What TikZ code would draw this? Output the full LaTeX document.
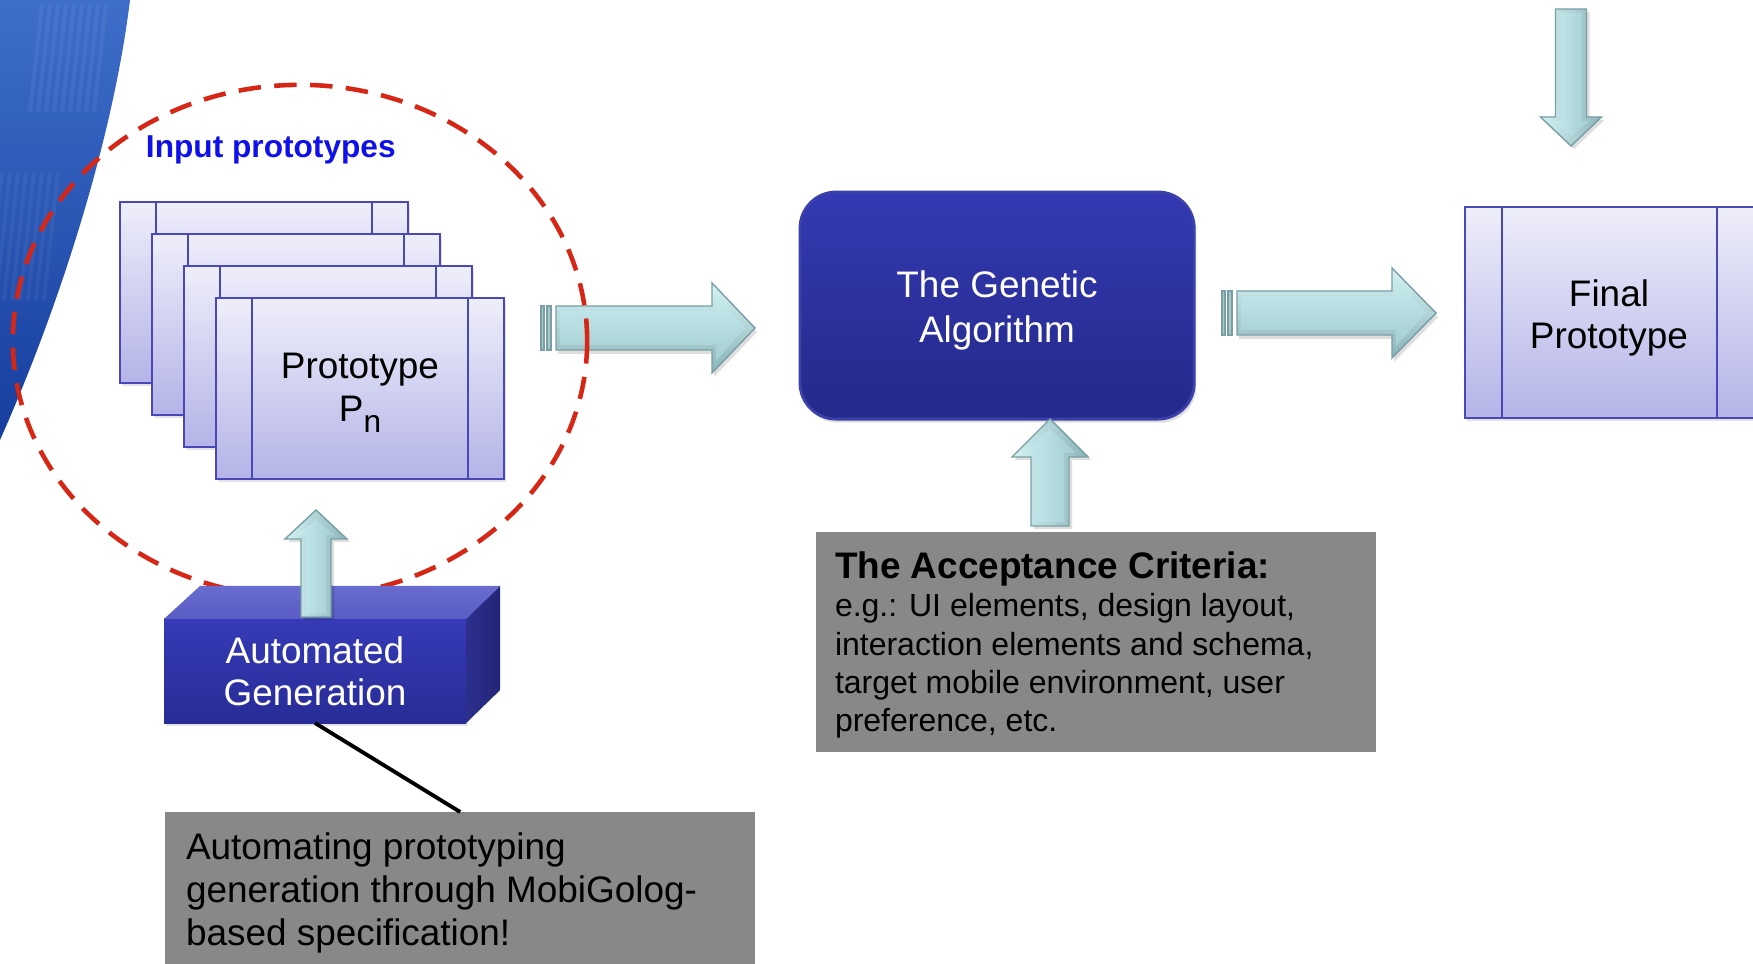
\documentclass[tikz,border=0pt]{standalone}
\usepackage{fontspec}
\setmainfont{Liberation Sans}
\usetikzlibrary{shadows}

\definecolor{protoedge}{RGB}{72,72,184}
\definecolor{prototop}{RGB}{238,238,250}
\definecolor{protobot}{RGB}{180,180,232}
\definecolor{gabluetop}{RGB}{52,57,178}
\definecolor{gabluebot}{RGB}{36,41,138}
\definecolor{gaedge}{RGB}{60,64,170}
\definecolor{frontA}{RGB}{54,58,182}
\definecolor{frontB}{RGB}{40,44,150}
\definecolor{topfaceA}{RGB}{104,108,206}
\definecolor{topfaceB}{RGB}{88,92,196}
\definecolor{sideA}{RGB}{44,47,140}
\definecolor{sideB}{RGB}{34,37,118}
\definecolor{notegray}{RGB}{136,136,136}
\definecolor{dashred}{RGB}{214,38,22}
\definecolor{inputblue}{RGB}{16,16,235}
\definecolor{cyanhi}{RGB}{214,242,244}
\definecolor{cyanlo}{RGB}{138,180,184}
\definecolor{cyanfacehi}{RGB}{198,235,237}
\definecolor{cyanfacelo}{RGB}{164,206,210}
\definecolor{cyanedge}{RGB}{120,160,164}
\definecolor{swooshhi}{RGB}{62,110,202}
\definecolor{swooshlo}{RGB}{22,62,158}

\newcommand{\fsz}[2]{\fontsize{#1}{#2}\selectfont}

% horizontal block arrow: tail x, shaft start x, head base x, tip x, axis y, half shaft, half head
\newcommand{\hblockarrow}[7]{%
  \begin{scope}[shift={(2,4)}]
    \fill[black, opacity=0.13] (#2,{#5-#6}) -- (#3,{#5-#6}) -- (#3,{#5-#7}) -- (#4,#5)
      -- (#3,{#5+#7}) -- (#3,{#5+#6}) -- (#2,{#5+#6}) -- cycle;
  \end{scope}
  \draw[tailbar] (#1,{#5-#6}) rectangle ({#1+3},{#5+#6});
  \draw[tailbar] ({#1+6},{#5-#6}) rectangle ({#1+10},{#5+#6});
  \shadedraw[arrowrim, top color=cyanhi, bottom color=cyanlo]
    (#2,{#5-#6}) -- (#3,{#5-#6}) -- (#3,{#5-#7}) -- (#4,#5)
    -- (#3,{#5+#7}) -- (#3,{#5+#6}) -- (#2,{#5+#6}) -- cycle;
  \shade[top color=cyanfacehi, bottom color=cyanfacelo]
    ({#2+4},{#5-#6+5}) -- ({#3+4},{#5-#6+5}) -- ({#3+4},{#5-#7+12}) -- ({#4-10},#5)
    -- ({#3+4},{#5+#7-12}) -- ({#3+4},{#5+#6-5}) -- ({#2+4},{#5+#6-5}) -- cycle;
}

% vertical block arrow: axis x, tail y, head base y, tip y, half shaft, half head, direction (1 down, -1 up)
\newcommand{\vblockarrow}[7]{%
  \begin{scope}[shift={(3,3)}]
    \fill[black, opacity=0.13] ({#1-#5},#2) -- ({#1-#5},#3) -- ({#1-#6},#3) -- (#1,#4)
      -- ({#1+#6},#3) -- ({#1+#5},#3) -- ({#1+#5},#2) -- cycle;
  \end{scope}
  \shadedraw[arrowrim, left color=cyanhi, right color=cyanlo]
    ({#1-#5},#2) -- ({#1-#5},#3) -- ({#1-#6},#3) -- (#1,#4)
    -- ({#1+#6},#3) -- ({#1+#5},#3) -- ({#1+#5},#2) -- cycle;
  \shade[left color=cyanfacehi, right color=cyanfacelo]
    ({#1-#5+5},{#2+(#7)*4}) -- ({#1-#5+5},{#3+(#7)*4}) -- ({#1-#6+12},{#3+(#7)*4})
    -- (#1,{#4-(#7)*10}) -- ({#1+#6-12},{#3+(#7)*4}) -- ({#1+#5-5},{#3+(#7)*4})
    -- ({#1+#5-5},{#2+(#7)*4}) -- cycle;
}

\begin{document}
\begin{tikzpicture}[x=0.01cm, y=-0.01cm,
  card/.style={draw=protoedge, line width=0.7pt, top color=prototop, bottom color=protobot,
    anchor=north west, inner sep=0pt, outer sep=0pt,
    drop shadow={opacity=0.22, shadow xshift=0.6pt, shadow yshift=-0.9pt}},
  cardline/.style={protoedge, line width=0.7pt},
  gabox/.style={draw=gaedge, line width=0.8pt, top color=gabluetop, bottom color=gabluebot,
    rounded corners=0.36cm, anchor=north west, inner sep=0pt, outer sep=0pt,
    drop shadow={opacity=0.25, shadow xshift=0.6pt, shadow yshift=-1pt}},
  frontface/.style={top color=frontA, bottom color=frontB, anchor=north west,
    inner sep=0pt, outer sep=0pt,
    drop shadow={opacity=0.22, shadow xshift=0.6pt, shadow yshift=-0.9pt}},
  notebox/.style={fill=notegray, anchor=north west, inner sep=0pt, outer sep=0pt},
  captext/.style={inner sep=0pt, outer sep=0pt, align=center, font=\fsz{10.5}{12.2}},
  plaintext/.style={inner sep=0pt, outer sep=0pt},
  arrowrim/.style={draw=cyanedge, line width=0.4pt},
  tailbar/.style={draw=cyanedge, fill=cyanlo!75!white, line width=0.4pt}
]
\useasboundingbox (0,0) rectangle (1753,964);
\fill[white] (0,0) rectangle (1753,964);

% blue swoosh in the top left corner
\shade[top color=swooshhi, bottom color=swooshlo]
  (0,0) -- (130,0) .. controls (113,140) and (58,310) .. (0,440) -- cycle;
\begin{scope}
  \clip (0,0) -- (130,0) .. controls (113,140) and (58,310) .. (0,440) -- cycle;
  \foreach \x in {42,50,...,106}
    \draw[white, opacity=0.06, line width=1.1pt] (\x,4) -- ({\x-12},112);
  \foreach \x in {2,10,...,58}
    \draw[white, opacity=0.05, line width=1.1pt] (\x,172) -- ({\x-14},300);
\end{scope}

% stack of input prototype cards
\foreach \i in {0,1,2,3} {
  \node[card, minimum width=2.88cm, minimum height=1.81cm] (card\i) at ({120+32*\i},{202+32*\i}) {};
  \draw[cardline] ([xshift=0.36cm]card\i.north west) -- ([xshift=0.36cm]card\i.south west);
  \draw[cardline] ([xshift=-0.36cm]card\i.north east) -- ([xshift=-0.36cm]card\i.south east);
}
\node[captext] (pntext) at (360,393) {Prototype\\P\raisebox{-3.2pt}{\fsz{9}{9}n}};

\node[plaintext, anchor=base west, text=inputblue, font=\fsz{9}{10}\bfseries]
  (inputlabel) at (146,158) {Input prototypes};

% arrow from the prototypes to the algorithm
\hblockarrow{541}{556}{712}{755}{328}{22}{45}

% dashed boundary of the input prototypes
\draw[dashred, line width=1.3pt, dash pattern=on 6.4pt off 3.8pt]
  (300,341) ellipse [x radius=2.87cm, y radius=2.56cm];

% genetic algorithm
\node[gabox, minimum width=3.94cm, minimum height=2.27cm] (ga) at (800,192) {};
\node[captext, text=white, font=\fsz{10.5}{12.8}] (gatext) at (997,310) {The Genetic\\Algorithm};

% arrow from the algorithm to the final prototype
\hblockarrow{1222}{1237}{1392}{1436}{313}{22}{45}

% final prototype
\node[card, minimum width=2.90cm, minimum height=2.11cm] (final) at (1465,207) {};
\draw[cardline] ([xshift=0.37cm]final.north west) -- ([xshift=0.37cm]final.south west);
\draw[cardline] ([xshift=-0.38cm]final.north east) -- ([xshift=-0.38cm]final.south east);
\node[captext, font=\fsz{10.5}{11.95}] (finaltext) at (1609,318) {Final\\Prototype};

% incoming arrow above the final prototype
\vblockarrow{1571}{9}{117}{146}{15.5}{30.5}{1}

% acceptance criteria
\vblockarrow{1050}{526}{457}{419}{19}{38}{-1}
\node[notebox, minimum width=5.60cm, minimum height=2.20cm] (accept) at (816,532) {};
\node[plaintext, anchor=base west, font=\fsz{10.5}{12}\bfseries] (accepttitle) at (835,579)
  {The Acceptance Criteria:};
\node[plaintext, anchor=west, align=left, font=\fsz{9.1}{10.9}] (acceptbody) at (835,666)
  {e.g.: UI elements, design layout,\\interaction elements and schema,\\target mobile environment, user\\preference, etc.};

% automated generation block
\node[frontface, minimum width=3.02cm, minimum height=1.04cm] (autogen) at (164,619) {};
\shade[top color=topfaceA, bottom color=topfaceB]
  (autogen.north west) -- ++(36,-33) -- ([shift={(34,-33)}]autogen.north east) -- (autogen.north east) -- cycle;
\shade[left color=sideA, right color=sideB]
  (autogen.north east) -- ++(34,-33) -- ++(0,104) -- (autogen.south east) -- cycle;
\node[captext, text=white, font=\fsz{10.5}{11.95}] (autotext) at (315,671) {Automated\\Generation};
\vblockarrow{316}{617}{539}{510}{15}{31}{-1}

% note on the automated generation
\node[notebox, minimum width=5.90cm, minimum height=1.60cm] (note) at (165,812) {};
\draw[line width=1.1pt] (autogen.south) -- (note.north);
\node[plaintext, anchor=west, align=left, font=\fsz{10.5}{12.2}] (notetext) at (186,893)
  {Automating prototyping\\generation through MobiGolog-\\based specification!};
\end{tikzpicture}
\end{document}
